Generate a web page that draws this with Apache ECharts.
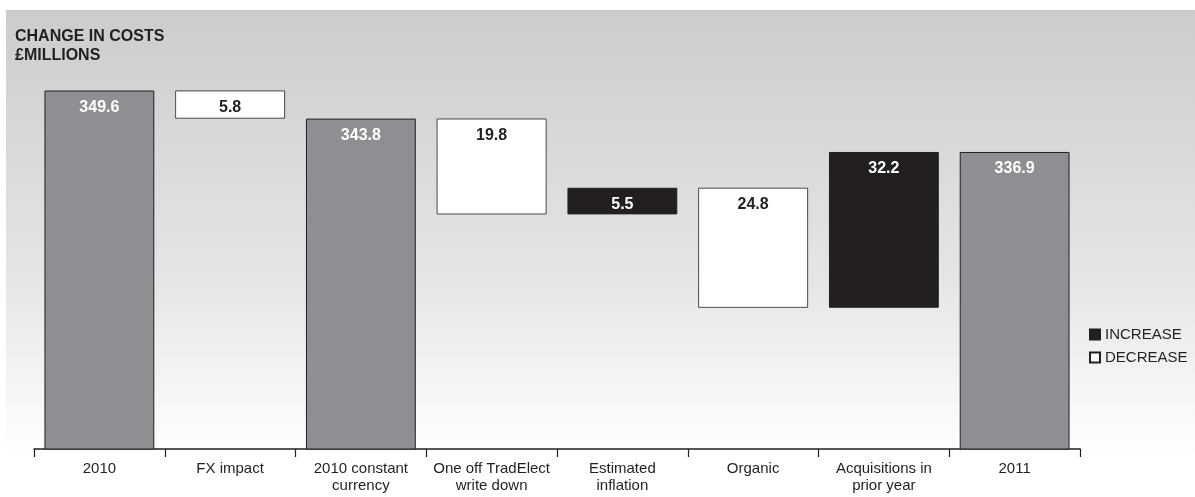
<!DOCTYPE html>
<html>
<head>
<meta charset="utf-8">
<script src="https://cdn.jsdelivr.net/npm/echarts@6/dist/echarts.min.js"></script>
<style>
    html, body { margin: 0; padding: 0; background: #fff; }
    #chart { width: 1195px; height: 497px; }
</style>
</head>
<body>
<div id="chart"></div>
<script>
    // categories along the bottom
    const categories = ['2010', 'FX impact', '2010 constant\ncurrency', 'One off TradElect\nwrite down',
        'Estimated\ninflation', 'Organic', 'Acquisitions in\nprior year', '2011'];
    // value of each step, £m
    const values = [349.6, 5.8, 343.8, 19.8, 5.5, 24.8, 32.2, 336.9];
    // kind of each step: total / increase / decrease
    const kinds = ['total', 'decrease', 'total', 'decrease', 'increase', 'decrease', 'increase', 'total'];

    const ink = '#231f20';

    // running level -> invisible base + the visible piece
    const base = [], totals = [], ups = [], downs = [];
    let level = 0;
    for (let i = 0; i < values.length; i++) {
        const v = values[i];
        if (kinds[i] === 'total') {
            base.push(0);
            level = v;
        } else if (kinds[i] === 'decrease') {
            level = +(level - v).toFixed(1);
            base.push(level);
        } else {
            base.push(level);
            level = +(level + v).toFixed(1);
        }
        totals.push(kinds[i] === 'total' ? v : '-');
        ups.push(kinds[i] === 'increase' ? v : '-');
        downs.push(kinds[i] === 'decrease' ? v : '-');
    }

    const labelStyle = function (color) {
        return {
            show: true,
            position: 'insideTop',
            distance: 9,
            color: color,
            fontFamily: 'Liberation Sans',
            fontWeight: 'bold',
            fontSize: 16
        };
    };

    const chart = echarts.init(document.getElementById('chart'));
    chart.setOption({
        animation: false,
        backgroundColor: '#fff',
        textStyle: { fontFamily: 'Liberation Sans' },
        graphic: [{
            type: 'rect',
            left: 6, top: 10,
            shape: { width: 1189, height: 487 },
            style: {
                fill: new echarts.graphic.LinearGradient(0, 0, 0, 1, [
                    { offset: 0, color: '#cbccce' },
                    { offset: 0.55, color: '#e4e5e6' },
                    { offset: 0.92, color: '#ffffff' }
                ])
            },
            z: -10
        }, {
            type: 'text',
            left: 15, top: 27,
            style: {
                text: 'CHANGE IN COSTS\n£MILLIONS',
                fill: ink,
                font: 'bold 16px "Liberation Sans"',
                lineHeight: 19
            }
        }],
        legend: {
            data: ['INCREASE', 'DECREASE'],
            orient: 'vertical',
            left: 1084, top: 322,
            icon: 'rect',
            itemWidth: 10, itemHeight: 10,
            itemGap: 8,
            textStyle: { color: ink, fontSize: 15, fontFamily: 'Liberation Sans' },
            selectedMode: false
        },
        grid: { left: 34, right: 115, top: 62, bottom: 48 },
        xAxis: {
            type: 'category',
            data: categories,
            axisLine: { lineStyle: { color: ink, width: 1.5 } },
            axisTick: { show: true, length: 8, lineStyle: { color: ink, width: 1.2 } },
            axisLabel: { color: ink, fontSize: 15, lineHeight: 17, margin: 11, interval: 0 }
        },
        yAxis: {
            type: 'value',
            min: 275.5, max: 355.5,
            show: false,
            splitLine: { show: false }
        },
        series: [{
            name: 'base',
            type: 'bar',
            stack: 'w',
            barCategoryGap: '16%',
            silent: true,
            itemStyle: { color: 'transparent' },
            data: base
        }, {
            name: 'Total',
            type: 'bar',
            stack: 'w',
            itemStyle: { color: '#8e8f93', borderColor: ink, borderWidth: 1 },
            label: labelStyle('#ffffff'),
            data: totals
        }, {
            name: 'INCREASE',
            type: 'bar',
            stack: 'w',
            itemStyle: { color: ink, borderColor: ink, borderWidth: 1 },
            label: labelStyle('#ffffff'),
            data: ups
        }, {
            name: 'DECREASE',
            type: 'bar',
            stack: 'w',
            itemStyle: { color: '#ffffff', borderColor: ink, borderWidth: 0.8 },
            label: labelStyle(ink),
            data: downs
        }]
    });
</script>
</body>
</html>
